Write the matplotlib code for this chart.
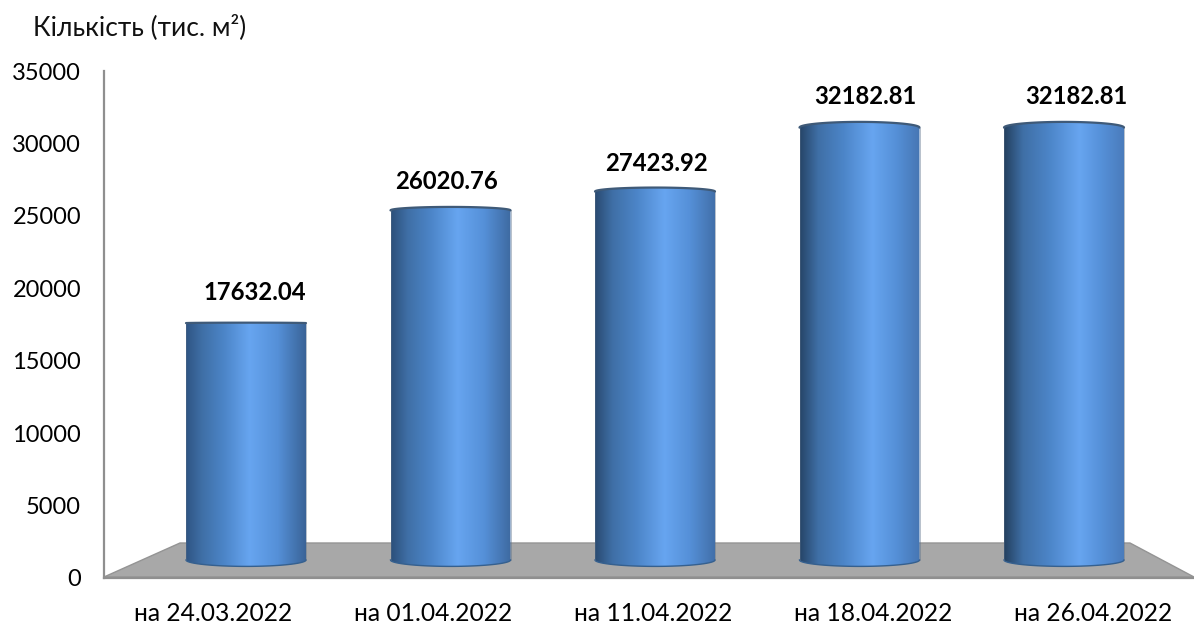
import numpy as np
import matplotlib
matplotlib.use("Agg")
import matplotlib.pyplot as plt
from matplotlib.colors import LinearSegmentedColormap
from matplotlib.patches import PathPatch, Polygon
from matplotlib.path import Path
from matplotlib.transforms import IdentityTransform

plt.rcParams['font.family'] = ['Lato', 'Open Sans', 'DejaVu Sans']

dates = ["на 24.03.2022", "на 01.04.2022", "на 11.04.2022", "на 18.04.2022", "на 26.04.2022"]
values = [17632.04, 26020.76, 27423.92, 32182.81, 32182.81]
yticks = [0, 5000, 10000, 15000, 20000, 25000, 30000, 35000]

W, H = 1194, 624
# the fake 3d look: bars stand a bit above zero and are slightly shortened
BASE = 1243
SHRINK = 0.9275
HORIZON = BASE + values[0] * SHRINK

fig = plt.figure(figsize=(W / 100, H / 100), dpi=100)
ax = fig.add_axes([104 / W, 1 - 578 / H, (W - 104) / W, 507 / H])
ax.patch.set_alpha(0)

# one category step is 204.5 px, first bar centre at 246 px
x_left = (104 - 246) / 204.5
x_right = (W - 246) / 204.5
half = 60 / 204.5


def shade_cmap(i):
    t = i / 4
    dark_l = np.array([0x2f, 0x55, 0x84]) * (1 - t) + np.array([0x24, 0x40, 0x5f]) * t
    dark_r = np.array([0x3a, 0x64, 0x98]) * (1 - t) + np.array([0x4a, 0x7c, 0xbc]) * t
    peak = 0.53 + 0.10 * t
    stops = [
        (0, tuple(dark_l / 255)),
        (peak * 0.25, "#3f6fa6"),
        (peak * 0.6, "#4c85c8"),
        (peak, "#67a5f0"),
        (peak + (1 - peak) * 0.5, "#5590d8"),
        (1, tuple(dark_r / 255)),
    ]
    return LinearSegmentedColormap.from_list("cyl", stops)


# floor, given in pixels
floor_px = [(180, 543), (1130, 543), (W, 577), (104, 577)]
floor = Polygon([(x, H - y) for x, y in floor_px], closed=True, transform=IdentityTransform(),
                facecolor="#a8a8a8", edgecolor="#949494", lw=1, zorder=1)
ax.add_patch(floor)

grad = np.linspace(0, 1, 256).reshape(1, -1)
th = np.linspace(0, np.pi, 60)
for i, v in enumerate(values):
    top = BASE + v * SHRINK
    b_top = 0.027 * (top - HORIZON) + 30
    b_bot = 0.027 * (HORIZON - BASE)
    xs = i + half * np.cos(th)
    upper = np.column_stack([xs, top + b_top * np.sin(th)])
    lower = np.column_stack([xs[::-1], BASE - b_bot * np.sin(th)])
    path = Path(np.vstack([upper, lower, upper[:1]]))
    im = ax.imshow(grad, extent=(i - half, i + half, BASE - b_bot, top + b_top), aspect="auto",
                   cmap=shade_cmap(i), zorder=3)
    clip = PathPatch(path, transform=ax.transData, facecolor="none", edgecolor="none")
    ax.add_patch(clip)
    im.set_clip_path(clip)
    ax.plot(upper[:, 0], upper[:, 1], color="#3f5a78", lw=1.6, zorder=4, solid_capstyle="round")
    ax.plot(lower[:, 0], lower[:, 1], color="#35608f", lw=1.0, zorder=4)
    for x0 in (i - half, i + half):
        ax.plot([x0, x0], [top, BASE], color="#5a6f88", lw=0.6, alpha=0.5, zorder=4)

label_dx = [9, -4, 1, 6, 12]
label_dy = [31, 29, 28, 31, 31]
for i, v in enumerate(values):
    ax.annotate(f"{v:.2f}", (i, BASE + v * SHRINK), xytext=(label_dx[i] * 0.72, label_dy[i] * 0.72),
                textcoords="offset points", ha="center", va="center",
                fontsize=17.2, fontweight="bold", color="black", zorder=5)

ax.set_xlim(x_left, x_right)
ax.set_ylim(0, 35000)
ax.set_yticks(yticks)
ax.tick_params(axis="y", length=0, pad=16.5, labelsize=17)
# category labels sit on the front edge of the floor, wider spaced than the bars
ax.set_xticks([(213 + 220 * i - 246) / 204.5 for i in range(5)])
ax.set_xticklabels(dates)
ax.tick_params(axis="x", length=0, pad=17.5, labelsize=17.7)

for s in ("top", "right"):
    ax.spines[s].set_visible(False)
for s in ("left", "bottom"):
    ax.spines[s].set_color("#8f8f8f")
    ax.spines[s].set_linewidth(1.6)

fig.text(33 / W, 1 - 27 / H, "Кількість (тис. м²)", fontsize=19, va="center", ha="left", color="#111111")

fig.savefig("out.png", dpi=100)
